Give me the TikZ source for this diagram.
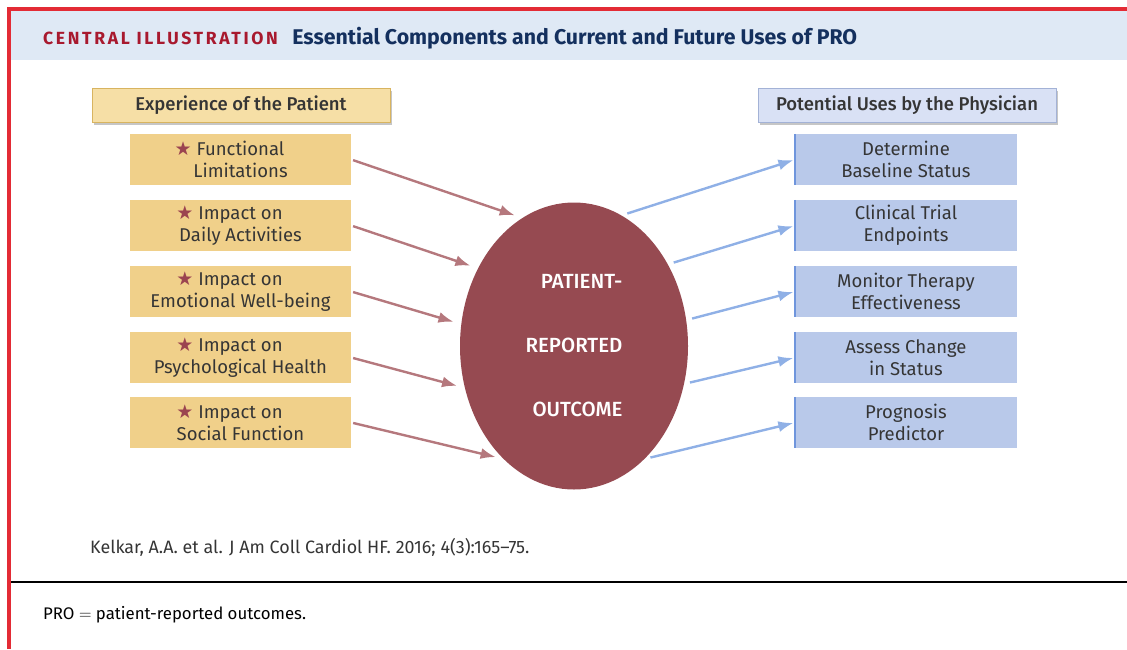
\documentclass[tikz,border=0pt]{standalone}
\usepackage{fontspec}
\setmainfont{Fira Sans}
\newfontfamily\medfont{Fira Sans Medium}
\newfontfamily\starfont{DejaVu Sans}
\usetikzlibrary{positioning, shapes.geometric, shadows, arrows.meta}

\definecolor{framered}{HTML}{E32B35}
\definecolor{bandblue}{HTML}{DFE9F5}
\definecolor{labelred}{HTML}{A8192E}
\definecolor{titlenavy}{HTML}{14305E}
\definecolor{textgray}{HTML}{353535}
\definecolor{patfill}{HTML}{F0D08A}
\definecolor{patheadfill}{HTML}{F6DFA6}
\definecolor{patheadline}{HTML}{D8B460}
\definecolor{usefill}{HTML}{B9C9EA}
\definecolor{useheadfill}{HTML}{D9E1F5}
\definecolor{useheadline}{HTML}{A3B2D6}
\definecolor{useedge}{HTML}{6F95DC}
\definecolor{ovalred}{HTML}{964A51}
\definecolor{patarrowcol}{HTML}{B5787D}
\definecolor{usearrowcol}{HTML}{8FB0E6}
\definecolor{starred}{HTML}{9B4450}

\newcommand{\patstar}{{\starfont\fontsize{19}{19}\selectfont\color{starred}★}\ }

\tikzset{
	headbox/.style = {minimum width = 298pt, minimum height = 34pt, line width = 1pt, text = textgray, font = \medfont\fontsize{18.5}{22}\selectfont, drop shadow = {shadow xshift = 1.5pt, shadow yshift = -2.5pt, opacity = 0.45}},
	patbox/.style = {fill = patfill, minimum width = 221pt, minimum height = 51pt, align = center, text = textgray, font = \fontsize{18.5}{22}\selectfont},
	usebox/.style = {patbox, fill = usefill},
	patarrow/.style = {draw = patarrowcol, line width = 2.4pt, -{Latex[length = 15pt, width = 11pt]}, shorten < = 2pt, shorten > = 8pt},
	usearrow/.style = {draw = usearrowcol, line width = 2.4pt, -{Latex[length = 15pt, width = 11pt]}, shorten < = 6pt, shorten > = 2pt}
}

\begin{document}
\begin{tikzpicture}[x = 1pt, y = -1pt]
	\useasboundingbox (0, 0) rectangle (1127, 649);
	% frame and header band
	\fill[bandblue] (11, 11) rectangle (1127, 60);
	\draw[framered, line width = 4pt] (9, 649) -- (9, 9) -- (1127, 9);
	\draw[line width = 1.2pt] (11, 582) -- (1127, 582);
	\node[anchor = base west, inner sep = 0, text = labelred, font = \bfseries\fontsize{17.6}{18}\selectfont\addfontfeatures{LetterSpace = 15}] (central) at (43, 44) {CENTRAL ILLUSTRATION};
	\node[base right = 14pt of central, inner sep = 0, text = titlenavy, font = \bfseries\fontsize{21.3}{22}\selectfont] (title) {Essential Components and Current and Future Uses of PRO};

	% column headings
	\node[headbox, fill = patheadfill, draw = patheadline] (pathead) at (241, 105) {Experience of the Patient};
	\node[headbox, fill = useheadfill, draw = useheadline] (usehead) at (907, 105) {Potential Uses by the Physician};

	\node[ellipse, fill = ovalred, minimum width = 228pt, minimum height = 287pt, align = right, text = white, font = \medfont\fontsize{20.5}{64}\selectfont] (pro) at (574, 346) {PATIENT-\\REPORTED\\OUTCOME};

	\foreach \i/\y/\first/\second in {1/159.5/Functional/Limitations, 2/225.5/Impact on/Daily Activities, 3/291.5/Impact on/Emotional Well-being, 4/357.5/Impact on/Psychological Health, 5/422.5/Impact on/Social Function}{
		\node[patbox] (pat\i) at (240.5, \y) {\llap{\patstar}\first\\\second};}
	\foreach \i/\y/\first/\second in {1/159.5/Determine/Baseline Status, 2/225.5/Clinical Trial/Endpoints, 3/291.5/Monitor Therapy/Effectiveness, 4/357.5/Assess Change/in Status, 5/422.5/Prognosis/Predictor}{
		\node[usebox] (use\i) at (906, \y) {\first\\\second};
		\draw[useedge, line width = 2pt] (use\i.north west) -- (use\i.south west);}

	% arrows in and out of the oval
	\foreach \i/\a in {1/112, 2/141, 3/169, 4/201, 5/238}{
		\draw[patarrow] (pat\i.east) -- (pro.\a);}
	\foreach \i/\a in {1/70, 2/41, 3/13, 4/341, 5/302}{
		\draw[usearrow] (pro.\a) -- (use\i.west);}

	\node[anchor = base west, inner sep = 0, text = textgray, font = \fontsize{17.9}{18}\selectfont] (cite) at (90, 553) {Kelkar, A.A. et al. J Am Coll Cardiol HF. 2016; 4(3):165–75.};
	\node[anchor = base west, inner sep = 0, font = \fontsize{16.8}{18}\selectfont] (pronote) at (43, 619) {PRO $=$ patient-reported outcomes.};
\end{tikzpicture}
\end{document}
